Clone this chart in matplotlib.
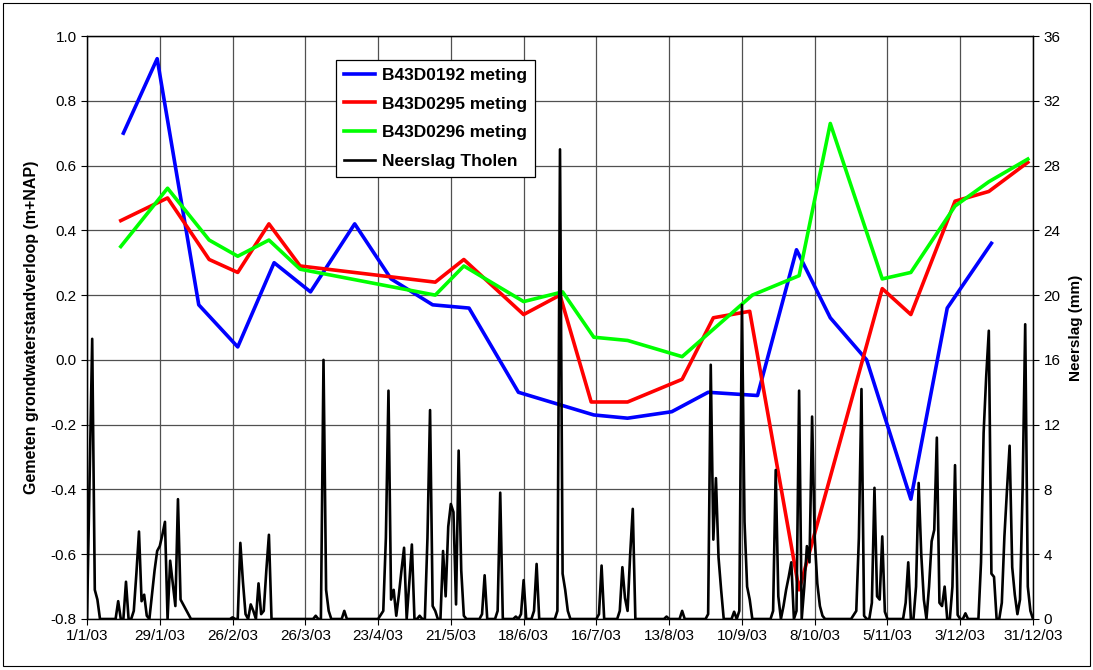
import numpy as np
import matplotlib
matplotlib.use('Agg')
import matplotlib.pyplot as plt
from matplotlib.patches import Rectangle

plt.rcParams['font.family'] = ['Liberation Sans', 'DejaVu Sans']

# groundwater measurements (day of year 2003, m+NAP)
days_192 = [14, 27, 43, 58, 72, 86, 103, 117, 133, 147, 166, 195, 208, 225, 239, 258, 273, 286, 300, 317, 331, 348]
gw_192 = [0.70, 0.93, 0.17, 0.04, 0.30, 0.21, 0.42, 0.25, 0.17, 0.16, -0.10, -0.17, -0.18, -0.16, -0.10, -0.11,
          0.34, 0.13, 0.00, -0.43, 0.16, 0.36]

days_295 = [13, 31, 47, 58, 70, 82, 134, 145, 168, 182, 194, 208, 229, 241, 255, 274, 306, 317, 334, 347, 362]
gw_295 = [0.43, 0.50, 0.31, 0.27, 0.42, 0.29, 0.24, 0.31, 0.14, 0.20, -0.13, -0.13, -0.06, 0.13, 0.15, -0.71,
          0.22, 0.14, 0.49, 0.52, 0.61]

days_296 = [13, 31, 47, 58, 70, 82, 134, 145, 168, 183, 195, 208, 229, 256, 274, 286, 306, 317, 334, 347, 362]
gw_296 = [0.35, 0.53, 0.37, 0.32, 0.37, 0.28, 0.20, 0.29, 0.18, 0.21, 0.07, 0.06, 0.01, 0.20, 0.26, 0.73,
          0.25, 0.27, 0.475, 0.55, 0.62]

# daily rainfall Tholen, only the wet days (day of year, mm)
rain_day = [1, 2, 3, 4, 12, 15, 18, 19, 20, 21, 22, 23, 25, 26, 27, 28, 29, 30, 32, 33, 34, 35, 36, 37, 38, 39,
            56, 59, 60, 61, 63, 64, 66, 67, 68, 69, 70,
            88, 91, 92, 93, 99,
            113, 114, 115, 116, 117, 118, 119, 120, 121, 122, 124, 125, 128, 131, 132, 133, 134,
            137, 138, 139, 140, 141, 142, 143, 144, 145,
            152, 153, 158, 159, 165, 167, 168, 172, 173,
            181, 182, 183, 184, 185, 197, 198, 205, 206, 207, 208, 209, 210,
            223, 229, 239, 240, 241, 242, 243, 244, 249, 251, 252, 253, 254, 255,
            264, 265, 266, 268, 269, 270, 271, 273, 274, 276, 277, 278, 279, 280, 281, 282, 283,
            295, 296, 297, 298, 299, 302, 303, 304, 305, 306, 307,
            315, 316, 319, 320, 321, 322, 324, 325, 326, 327, 328, 329, 330, 333, 334, 335, 338,
            344, 345, 346, 347, 348, 349, 352, 353, 354, 355, 356, 357, 358, 359, 360, 361, 362, 363]
rain_mm = [8.5, 17.3, 1.8, 1.2, 1.1, 2.3, 0.5, 2.8, 5.4, 1.1, 1.5, 0.2, 1.5, 3.0, 4.2, 4.5, 5.2, 6.0, 3.6, 2.2,
           0.8, 7.4, 1.2, 0.9, 0.6, 0.3,
           0.1, 4.7, 2.3, 0.3, 0.9, 0.5, 2.2, 0.3, 0.5, 3.0, 5.2,
           0.2, 16.0, 1.8, 0.5, 0.5,
           0.25, 0.5, 5.0, 14.1, 1.2, 1.8, 0.2, 1.5, 3.0, 4.4, 2.2, 4.6, 0.2, 5.0, 12.9, 0.8, 0.5,
           4.2, 1.4, 5.7, 7.1, 6.6, 0.9, 10.4, 3.0, 0.2,
           0.3, 2.7, 0.5, 7.8, 0.15, 0.3, 2.4, 0.5, 3.4,
           0.5, 29.0, 2.8, 1.8, 0.5, 0.3, 3.3, 0.5, 3.2, 1.3, 0.5, 4.0, 6.8,
           0.15, 0.5, 0.3, 15.7, 4.9, 8.7, 3.8, 1.8, 0.45, 0.5, 19.4, 6.0, 2.0, 1.2,
           0.5, 9.2, 1.4, 0.8, 1.8, 2.6, 3.5, 0.5, 14.1, 2.0, 4.5, 3.5, 12.5, 5.0, 2.2, 0.8, 0.2,
           0.25, 0.5, 5.0, 14.2, 0.2, 1.0, 8.1, 1.4, 1.2, 5.1, 0.45,
           1.0, 3.5, 2.0, 8.4, 4.0, 1.2, 2.0, 4.8, 5.5, 11.2, 1.0, 0.8, 2.0, 2.0, 9.5, 0.25, 0.35,
           3.5, 11.5, 15.0, 17.8, 2.8, 2.6, 1.0, 5.1, 8.0, 10.7, 3.2, 1.5, 0.3, 1.2, 8.0, 18.2, 2.0, 0.5]

tick_days = [0, 28, 56, 84, 112, 140, 168, 196, 224, 252, 280, 308, 336, 364]
tick_labels = ['1/1/03', '29/1/03', '26/2/03', '26/3/03', '23/4/03', '21/5/03', '18/6/03',
               '16/7/03', '13/8/03', '10/9/03', '8/10/03', '5/11/03', '3/12/03', '31/12/03']
gw_ticks = [-0.8, -0.6, -0.4, -0.2, 0.0, 0.2, 0.4, 0.6, 0.8, 1.0]

days = np.arange(365)
rain = np.zeros(365)
rain[rain_day] = rain_mm

fig = plt.figure(figsize=(10.93, 6.70), dpi=100)
ax = fig.add_axes([87/1093, 1-619/670, 946/1093, 583/670])
ax2 = ax.twinx()

l1, = ax.plot(days_192, gw_192, color='#0000ff', lw=2.6, label='B43D0192 meting')
l2, = ax.plot(days_295, gw_295, color='#ff0000', lw=2.6, label='B43D0295 meting')
l3, = ax.plot(days_296, gw_296, color='#00ff00', lw=2.6, label='B43D0296 meting')
l4, = ax2.plot(days, rain, color='black', lw=1.9, label='Neerslag Tholen')

ax.set_xlim(0, 364)
ax.set_ylim(-0.8, 1.0)
ax.set_yticks(gw_ticks)
ax.set_yticklabels(['%.1f' % v for v in gw_ticks])
ax2.set_ylim(0, 36)
ax2.set_yticks(np.arange(0, 37, 4))
ax.set_xticks(tick_days)
ax.set_xticklabels(tick_labels)

ax.grid(True, color='#505050', lw=0.9)
ax.set_axisbelow(True)
for a in (ax, ax2):
    a.tick_params(labelsize=11, direction='out', length=4, width=0.8)
    for s in a.spines.values():
        s.set_linewidth(0.9)

ax.set_ylabel('Gemeten grondwaterstandverloop (m+NAP)', fontsize=11.5, fontweight='bold', labelpad=8)
ax2.set_ylabel('Neerslag (mm)', fontsize=11, fontweight='bold', labelpad=6)

leg = ax2.legend(handles=[l1, l2, l3, l4], loc='upper left', bbox_to_anchor=(0.263, 0.959),
                 borderaxespad=0, fancybox=False, edgecolor='black', framealpha=1,
                 prop={'size': 12.5, 'weight': 'bold'}, handlelength=1.8, labelspacing=0.78,
                 handletextpad=0.4, borderpad=0.45)
leg.get_frame().set_linewidth(0.9)

fig.patches.append(Rectangle((0.003, 0.006), 0.994, 0.99, transform=fig.transFigure,
                             fill=False, edgecolor='black', lw=0.8))

fig.savefig('out.png', dpi=100)
